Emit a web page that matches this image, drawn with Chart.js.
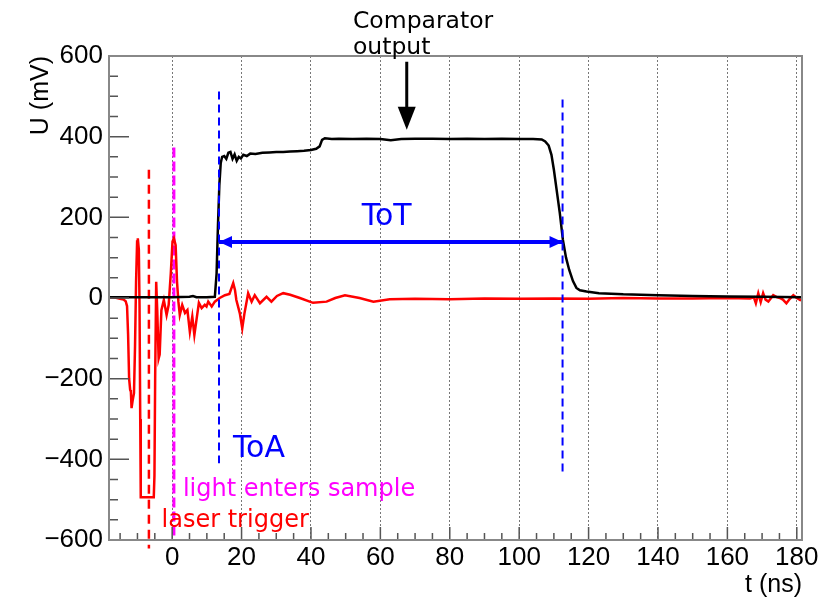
<!DOCTYPE html>
<html>
<head>
<meta charset="utf-8">
<script src="https://cdn.jsdelivr.net/npm/chart.js@4/dist/chart.umd.min.js"></script>
<style>
  html, body { margin: 0; padding: 0; background: #fff; }
  #wrap { width: 834px; height: 600px; }
</style>
</head>
<body>
<div id="wrap"><canvas id="chart" width="834" height="600"></canvas></div>
<script>
// Comparator output (black), t in ns, U in mV
const comparatorTime = [
  -18.2, -10, 0, 5, 6, 7, 10, 12.3, 12.8, 13.2, 13.6, 14.0, 14.4, 15.0, 15.6, 16.2,
  16.8, 17.4, 18.0, 18.6, 19.2, 19.8, 20.5, 21.5, 22.5, 24, 26, 28, 30, 32, 34, 36,
  38, 40, 41.5, 42.5, 43.2, 44.0, 46, 48, 52, 56, 60, 63, 66, 70, 75, 80, 85, 90,
  95, 100, 104, 106.5, 107.5, 108.5, 109.3, 110, 111, 111.7, 112.6, 113.5, 114.4,
  115.5, 116.5, 117.5, 119.4, 123, 130, 140, 150, 160, 170, 181.5
];
const comparatorVoltage = [
  2, 2, 2, 3, 5, 2, 2, 3, 60, 180, 280, 335, 350, 352, 345, 360,
  362, 345, 356, 340, 350, 346, 355, 352, 358, 357, 360, 361, 362, 362, 363, 364,
  365, 367, 370, 376, 392, 396, 394, 395, 394, 395, 394, 391, 394, 395, 395, 394, 395, 394,
  395, 394, 394, 393, 388, 378, 355, 318, 255, 211, 144, 100, 70,
  42, 25, 19, 16, 12, 9, 7, 5, 4, 3, 2
];

// Amplifier signal (red)
const signalTime = [
  -18.2, -16.5, -15.0, -14.0, -13.4, -13.0, -12.7, -12.4, -12.1, -11.9, -11.7, -11.4, -11.0,
  -10.7, -10.4, -10.1, -9.9, -9.6, -9.4, -9.2, -9.05, -5.3, -5.1, -4.9, -4.6, -4.3, -3.9,
  -3.6, -3.1, -2.4, -1.6, -1.0, -0.4, 0.1, 0.5, 1.0, 1.4, 1.8, 2.2, 2.9, 3.7, 4.4, 5.1,
  5.8, 6.4, 7.0, 7.7, 8.5, 9.4, 9.9, 10.4, 11.4, 12.3, 13.7, 15.2, 16.5, 17.6, 18.1, 18.5,
  19.5, 20.2, 20.8, 21.9, 22.9, 23.8, 25.3, 27.2, 28.6, 30.2, 32.0, 34.0, 36.8, 40.6, 44.5,
  47.0, 49.8, 54.0, 58.0, 62.7, 70, 80, 90, 100, 110, 120, 130, 140, 150, 160, 166.5,
  167.6, 168.2, 168.9, 169.6, 170.3, 171.0, 171.8, 173.2, 174.2, 175.1, 176.0, 177.0,
  178.0, 179.0, 180.0, 181.0, 181.5
];
const signalVoltage = [
  2, 1, -2, -4, -8, -20, -90, -200, -228, -232, -273, -255, -236,
  -120, 40, 140, 148, 120, -20, -300, -494, -494, -440, -200, 40, -30, -150,
  -140, -30, -5, -42, -17, 60, 140, 148, 131, 40, -9, -42, -17, -37, -30, -84,
  -46, -92, -55, -12, -25, -17, -21, -9, -21, -9, 0, 7, 10, 37, 20, -5,
  -38, -75, -40, 12, -9, 7, -13, 3, -9, 5, 12, 8, 0, -12, -9,
  0, 7, 0, -9, -3, -2, -3, -1, -2, -1, -2, 0, -1, -1, 0, -1,
  2, -13, 12, -10, 12, -4, -9, 7, 2, 0, -4, -13,
  -2, 7, 0, -5, -3
];

// Marker lines: [time, top U, bottom U]
const laserTrigger = [-6.7, 318, -621];
const lightEnters = [0.5, 373, -601];
const toaMarker = [13.5, 512, -410];
const totEndMarker = [112.5, 492, -440];
const totArrowU = 139;
const comparatorArrow = [67.6, 586, 417];

const xTickValues = [0, 20, 40, 60, 80, 100, 120, 140, 160, 180];
const yTickValues = [-600, -400, -200, 0, 200, 400, 600];

const toXY = (ts, us) => ts.map((t, i) => ({ x: t, y: us[i] }));
const vLine = (m) => [{ x: m[0], y: m[1] }, { x: m[0], y: m[2] }];
const fmt = (v) => v < 0 ? '\u2212' + Math.abs(v) : String(v);

const ANN = 'DejaVu Sans';

// inward ticks, frame, arrow heads and labels
const decor = {
  id: 'decor',
  afterDatasetsDraw(chart) {
    const { ctx, chartArea: a, scales: { x, y } } = chart;
    ctx.save();
    ctx.strokeStyle = '#555';
    ctx.lineWidth = 1.5;
    ctx.beginPath();
    for (let v = -600; v <= 600; v += 50) {
      const py = y.getPixelForValue(v);
      const len = v % 200 === 0 ? 20 : 9;
      ctx.moveTo(a.left, py);
      ctx.lineTo(a.left + len, py);
    }
    for (let t = -15; t <= 180; t += 5) {
      const px = x.getPixelForValue(t);
      const len = t % 20 === 0 ? 13 : 7;
      ctx.moveTo(px, a.bottom);
      ctx.lineTo(px, a.bottom - len);
    }
    ctx.stroke();

    ctx.strokeStyle = '#888';
    ctx.lineWidth = 2;
    ctx.strokeRect(a.left, a.top, a.right - a.left, a.bottom - a.top);

    // ToT arrow heads
    const ay = y.getPixelForValue(totArrowU);
    const x1 = x.getPixelForValue(toaMarker[0]);
    const x2 = x.getPixelForValue(totEndMarker[0]);
    ctx.fillStyle = '#0000ff';
    ctx.beginPath();
    ctx.moveTo(x1, ay); ctx.lineTo(x1 + 13, ay - 6); ctx.lineTo(x1 + 13, ay + 6); ctx.closePath();
    ctx.moveTo(x2, ay); ctx.lineTo(x2 - 13, ay - 6); ctx.lineTo(x2 - 13, ay + 6); ctx.closePath();
    ctx.fill();

    // comparator arrow head
    const cx = x.getPixelForValue(comparatorArrow[0]);
    const cy = y.getPixelForValue(comparatorArrow[2]);
    ctx.fillStyle = '#000';
    ctx.beginPath();
    ctx.moveTo(cx, cy); ctx.lineTo(cx - 9, cy - 23); ctx.lineTo(cx + 9, cy - 23); ctx.closePath();
    ctx.fill();

    // text labels
    ctx.textBaseline = 'alphabetic';
    const txt = (s, t, u, font, color, align) => {
      ctx.font = font;
      ctx.fillStyle = color;
      ctx.textAlign = align || 'left';
      ctx.fillText(s, x.getPixelForValue(t), y.getPixelForValue(u));
    };
    txt('Comparator', 52.1, 670, '23.5px ' + ANN, '#000');
    txt('output', 52.1, 604, '23.5px ' + ANN, '#000');
    txt('ToT', 61.8, 181, '30px ' + ANN, '#0000ff', 'center');
    txt('ToA', 17.5, -393, '30px ' + ANN, '#0000ff');
    txt('light enters sample', 3.1, -492, '24px ' + ANN, '#ff00ff');
    txt('laser trigger', -3.05, -569, '24px ' + ANN, '#ff0000');
    ctx.restore();
  }
};

Chart.defaults.font.family = 'Liberation Sans';
Chart.defaults.color = '#000';

new Chart(document.getElementById('chart'), {
  type: 'line',
  data: {
    datasets: [
      { data: toXY(comparatorTime, comparatorVoltage), borderColor: '#000', borderWidth: 2.5, order: 1 },
      { data: toXY(signalTime, signalVoltage), borderColor: '#ff0000', borderWidth: 2.5, order: 2 },
      { data: vLine(laserTrigger), borderColor: '#ff0000', borderWidth: 2.5, borderDash: [9, 6], clip: false, order: 3 },
      { data: vLine(lightEnters), borderColor: '#ff00ff', borderWidth: 3, borderDash: [10, 4], order: 3 },
      { data: vLine(toaMarker), borderColor: '#0000ff', borderWidth: 2, borderDash: [8, 5], order: 0 },
      { data: vLine(totEndMarker), borderColor: '#0000ff', borderWidth: 2, borderDash: [8, 5], order: 0 },
      { data: [{ x: toaMarker[0], y: totArrowU }, { x: totEndMarker[0], y: totArrowU }],
        borderColor: '#0000ff', borderWidth: 4, order: 0 },
      { data: vLine(comparatorArrow).map((p, i) => i === 1 ? { x: p.x, y: p.y + 20 } : p),
        borderColor: '#000', borderWidth: 3, order: 0 }
    ]
  },
  options: {
    responsive: false,
    animation: false,
    layout: { padding: { top: 56, right: 32, left: 0, bottom: 0 } },
    elements: { point: { radius: 0 }, line: { tension: 0, fill: false } },
    plugins: { legend: { display: false }, tooltip: { enabled: false } },
    scales: {
      x: {
        type: 'linear',
        min: -18.2,
        max: 181.5,
        afterBuildTicks: (s) => { s.ticks = xTickValues.map(v => ({ value: v })); },
        afterFit: (s) => { s.height = 60; },
        ticks: { font: { size: 26 }, color: '#000', padding: 2, maxRotation: 0, autoSkip: false },
        grid: { display: true, color: '#777', lineWidth: 1, drawTicks: false },
        border: { display: false, dash: [2, 2] },
        title: { display: true, text: 't (ns)', align: 'end', font: { size: 25 }, padding: { top: 0, bottom: 0 } }
      },
      y: {
        type: 'linear',
        min: -600,
        max: 600,
        afterBuildTicks: (s) => { s.ticks = yTickValues.map(v => ({ value: v })); },
        afterFit: (s) => { s.width = 109; },
        ticks: { font: { size: 26 }, color: '#000', padding: 6, callback: fmt },
        grid: { display: false, drawTicks: false },
        border: { display: false },
        title: { display: true, text: 'U (mV)', align: 'end', font: { size: 25 }, padding: { top: 26, bottom: 0 } }
      }
    }
  },
  plugins: [decor]
});
</script>
</body>
</html>
